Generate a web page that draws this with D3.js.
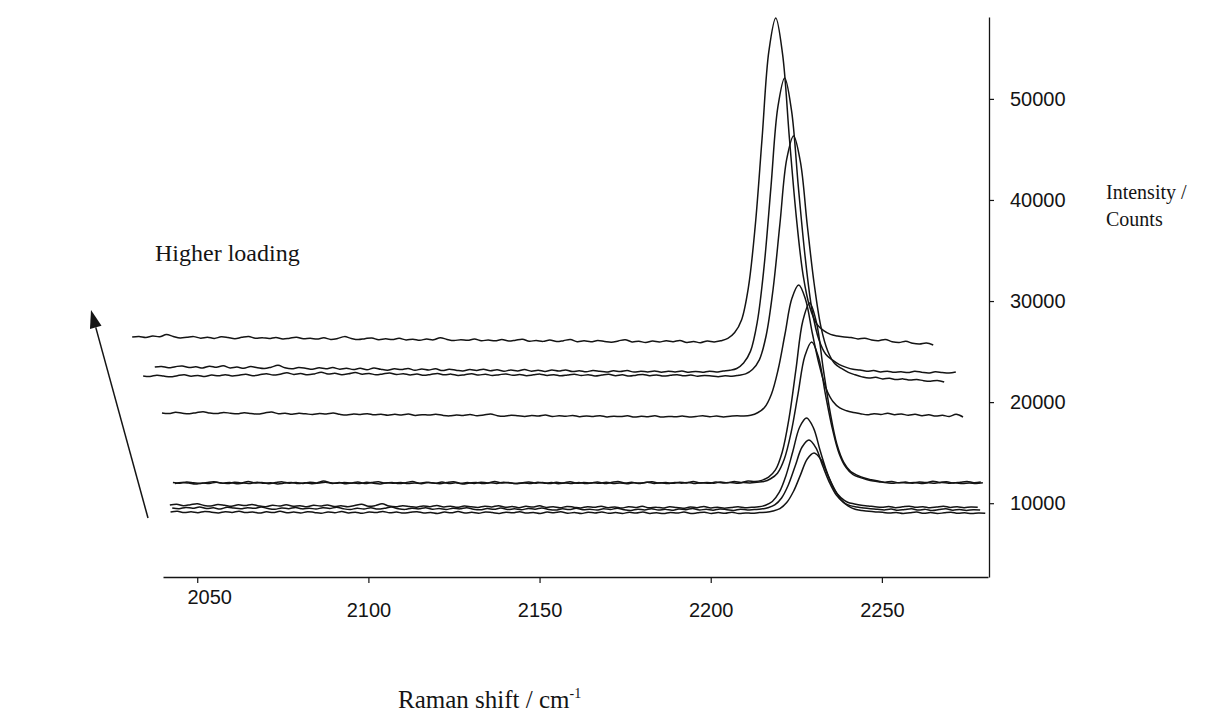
<!DOCTYPE html>
<html><head><meta charset="utf-8">
<script src="https://cdn.jsdelivr.net/npm/d3@7"></script>
<style>
html,body{margin:0;padding:0;background:#fff;}
svg{display:block;}
</style></head><body>
<svg id="chart" width="1219" height="722"></svg>
<script>
// Stacked Raman spectra of the C≡N stretching band at increasing loading.
const shiftTicks = [2050, 2100, 2150, 2200, 2250];
const countTicks = [10000, 20000, 30000, 40000, 50000];
const shiftStep = 2; // cm-1 between successive readings
const spectrumStarts = [2031, 2037.6, 2034.2, 2039.7, 2042.9, 2043.5, 2042, 2042.7, 2042.2];

const spectrum1 = [26450,26500,26400,26550,26460,26680,26500,26350,26420,26480,
26330,26420,26300,26460,26390,26280,26410,26500,26320,26380,
26290,26400,26250,26330,26410,26260,26320,26240,26360,26200,
26290,26480,26300,26190,26280,26350,26170,26260,26200,26310,
26150,26230,26120,26250,26160,26380,26200,26090,26180,26110,
26240,26070,26150,26060,26190,26040,26130,26230,26020,26100,
26010,26140,25990,26080,26200,25980,26060,25970,26090,26000,
25930,26050,26180,25960,26020,25900,26040,25950,26070,25980,
26100,25900,25990,25880,26050,25960,26080,26300,26880,28130,
31330,37420,46080,54740,58000,54400,46050,38330,32550,29330,
27720,27070,26700,26550,26450,26400,26250,26330,26150,26080,
26200,25980,25900,26020,25820,25750,25850,25650];

const spectrum2 = [23480,23530,23400,23510,23580,23420,23490,23380,23560,23450,
23600,23380,23470,23350,23520,23410,23330,23460,23640,23400,
23300,23420,23360,23250,23390,23300,23420,23260,23350,23230,
23340,23200,23380,23250,23160,23300,23220,23330,23150,23280,
23180,23300,23120,23250,23160,23080,23230,23140,23260,23100,
23200,23050,23180,23090,23220,23060,23150,23040,23170,23070,
23190,23020,23110,23000,23130,23050,22980,23100,23020,23120,
22970,23060,22990,23080,22960,23050,22990,23070,22960,23040,
22950,23060,22980,23080,23150,23330,23870,25020,27930,33450,
41300,49150,52070,48860,41300,34320,29090,26190,24730,24150,
23710,23440,23250,23180,23050,23120,22990,23060,22950,23010,
22920,23050,22960,22880,23000,22930,22870,22980];

const spectrum3 = [22590,22540,22660,22580,22500,22620,22700,22560,22640,22530,
22680,22600,22720,22590,22660,22750,22620,22700,22810,22680,
22760,22900,22740,22820,22700,22790,22960,22780,22850,22720,
22800,22930,22760,22840,22700,22790,22880,22730,22810,22690,
22780,22650,22740,22830,22700,22770,22640,22720,22800,22680,
22760,22630,22710,22790,22650,22730,22620,22700,22770,22640,
22720,22600,22690,22760,22630,22710,22590,22680,22750,22620,
22700,22580,22670,22740,22610,22690,22580,22650,22720,22600,
22680,22560,22640,22590,22520,22600,22550,22660,22800,23230,
24180,26590,31120,37580,44030,46330,43760,37520,31760,27440,
25040,23830,23330,22950,22700,22500,22380,22450,22300,22360,
22230,22300,22180,22240,22120,22070,22150,21990];

const spectrum4 = [18930,18880,18990,18900,18850,18960,19050,18920,18870,18980,
18900,18840,18950,18880,18820,18930,19020,18860,18910,18800,
18890,18840,18780,18870,18820,18920,18790,18730,18820,18770,
18860,18740,18800,18700,18790,18730,18820,18680,18760,18720,
18800,18690,18640,18730,18680,18780,18650,18720,18830,18660,
18610,18700,18650,18590,18680,18620,18720,18580,18650,18600,
18680,18560,18630,18580,18660,18540,18610,18570,18650,18520,
18600,18560,18640,18530,18590,18550,18620,18520,18580,18660,
18560,18620,18540,18600,18650,18620,18700,18950,19460,20760,
23230,26740,30250,31590,30160,26790,23680,21350,20060,19420,
19140,18980,18860,18740,18850,18780,18900,18760,18830,18700,
18790,18660,18740,18620,18700,18580,18800,18530];

const spectrum5 = [12050,11980,12100,12020,11950,12060,12130,12000,11940,12070,
12010,12150,11990,12060,11920,12040,12110,11980,12050,11960,
12080,12010,12190,12030,11970,12060,11990,12100,11950,12040,
12120,11990,12060,11940,12030,12150,11980,12070,12000,11930,
12050,12120,11970,12040,11960,12080,12010,12140,11990,12060,
11950,12030,12100,11980,12050,11940,12070,12000,12130,11970,
12050,11990,12110,11960,12040,12150,12000,12070,11950,12060,
12120,11990,12050,11970,12080,12010,12140,12000,12060,11980,
12090,12020,12150,12050,12200,12140,12260,12580,13290,15070,
18440,23240,28030,29810,27860,23240,18980,15780,14010,13120,
12760,12490,12320,12190,12080,12150,12020,12090,11980,12110,
12040,12170,12060,12120,12000,12080,12150,12030,12100];

const spectrum6 = [11960,12040,11990,11900,12010,11950,12070,11980,12050,11920,
12000,11940,12080,11970,12030,11910,11990,12060,11950,12020,
11930,12000,12080,11960,12040,11920,12010,11950,12070,11980,
11910,12030,11970,12060,11940,12010,11930,12050,11980,12090,
11950,12020,11900,11990,12060,11940,12030,11960,12080,11990,
11920,12010,11950,12070,11980,12040,11930,12000,11960,12060,
11940,12020,11970,12080,11950,12010,11920,12030,11990,12070,
11960,12020,11940,12050,11980,12060,11950,12030,11970,12090,
12000,12060,11980,12040,12010,12080,12140,12420,12970,14370,
17020,20790,24560,25950,24420,20790,17440,14930,13540,12840,
12560,12350,12190,12100,12020,11970,12060,11990,12040,11950,
12020,11980,12060,11970,12030,11940,12010,11960,12030];

const spectrum7 = [9820,9900,9760,9850,9950,9780,9720,9880,9800,9700,
9840,9770,9880,9730,9660,9800,9720,9840,9690,9760,
9650,9800,9720,9830,9680,9740,9640,9770,9900,9700,
9760,9940,9720,9640,9750,9680,9600,9730,9660,9780,
9630,9700,9590,9720,9650,9580,9700,9630,9760,9600,
9670,9560,9690,9620,9740,9580,9650,9550,9680,9610,
9530,9660,9590,9700,9560,9630,9520,9650,9580,9690,
9540,9610,9520,9640,9570,9500,9620,9560,9670,9530,
9600,9510,9580,9640,9550,9600,9640,9800,10170,11060,
12750,15140,17540,18430,17460,15160,13030,11430,10550,10100,
9930,9800,9730,9650,9590,9680,9560,9640,9710,9590,
9660,9550,9620,9700,9580,9650,9560,9630,9600];

const spectrum8 = [9530,9460,9580,9500,9620,9470,9540,9430,9600,9520,
9450,9560,9490,9620,9470,9400,9530,9460,9580,9440,
9510,9420,9560,9480,9600,9450,9380,9500,9430,9550,
9420,9490,9620,9460,9390,9500,9440,9560,9410,9470,
9380,9500,9440,9560,9410,9350,9470,9400,9520,9380,
9440,9350,9480,9410,9530,9380,9320,9440,9370,9490,
9350,9410,9320,9450,9380,9500,9350,9290,9410,9340,
9460,9320,9390,9300,9420,9360,9480,9330,9400,9310,
9430,9360,9290,9400,9340,9380,9420,9560,9830,10520,
11830,13700,15560,16250,15490,13700,12040,10800,10110,9760,
9620,9520,9450,9400,9330,9420,9300,9380,9450,9320,
9390,9280,9370,9440,9310,9380,9290,9360,9330];

const spectrum9 = [9130,9200,9080,9150,9060,9190,9110,9040,9160,9090,
9210,9070,9130,9020,9150,9080,9200,9050,9120,9030,
9160,9090,9010,9130,9060,9180,9040,9110,9000,9140,
9070,9190,9050,9120,9020,9100,9160,9040,9090,8990,
9120,9060,9170,9030,9100,9010,9130,9070,8990,9110,
9050,9160,9020,9090,8990,9120,9060,9150,9010,9080,
8980,9110,9040,9140,9000,9070,8990,9100,9030,9130,
8990,9060,8970,9090,9020,9120,8980,9050,9100,8990,
9070,9010,9110,8980,9040,9000,9080,9110,9230,9460,
10060,11180,12780,14380,14970,14320,12780,11360,10290,9700,
9400,9290,9200,9140,9100,9020,9090,8990,9060,9120,
9000,9070,8980,9050,9110,9000,9060,8970,9040,9010];

const spectra = [spectrum1, spectrum2, spectrum3, spectrum4, spectrum5,
                 spectrum6, spectrum7, spectrum8, spectrum9];

const svg = d3.select("#chart");
const ink = "#141414";
const sans = "'Liberation Sans', Arial, Helvetica, sans-serif";
const serif = "'Liberation Serif', 'Times New Roman', Times, serif";

const x = d3.scaleLinear().domain([2040, 2281]).range([163, 988]);
const y = d3.scaleLinear().domain([2700, 58100]).range([577, 17]);

// spectra
const line = d3.line()
  .x(d => x(d[0]))
  .y(d => y(d[1]))
  .curve(d3.curveCatmullRom.alpha(0.5));

spectra.forEach((counts, k) => {
  const pts = counts.map((c, i) => [spectrumStarts[k] + i * shiftStep, c]);
  svg.append("path")
    .datum(pts)
    .attr("fill", "none")
    .attr("stroke", ink)
    .attr("stroke-width", 1.5)
    .attr("stroke-linejoin", "round")
    .attr("d", line);
});

// x axis
const gx = svg.append("g")
  .attr("transform", "translate(0,577)")
  .call(d3.axisBottom(x).tickValues(shiftTicks).tickSize(6).tickSizeOuter(0)
        .tickPadding(20).tickFormat(d3.format("d")));
gx.select(".domain").attr("stroke", ink).attr("stroke-width", 1.3);
gx.selectAll(".tick line").attr("stroke", ink).attr("stroke-width", 1.2);
gx.selectAll(".tick text").attr("fill", ink).style("font-family", sans).style("font-size", "20px");
gx.selectAll(".tick").filter(d => d === 2050).select("text")
  .attr("transform", "translate(12,-13)");

// y axis
const gy = svg.append("g")
  .attr("transform", "translate(989,0)")
  .call(d3.axisRight(y).tickValues(countTicks).tickSize(5).tickSizeOuter(0)
        .tickPadding(16).tickFormat(d3.format("d")));
gy.select(".domain").attr("stroke", ink).attr("stroke-width", 1.3);
gy.selectAll(".tick line").attr("stroke", ink).attr("stroke-width", 1.2);
gy.selectAll(".tick text").attr("fill", ink).style("font-family", sans).style("font-size", "20px");

// axis titles
svg.append("text").attr("x", 1106).attr("y", 199)
  .style("font-family", serif).style("font-size", "20px").attr("fill", ink)
  .text("Intensity /");
svg.append("text").attr("x", 1106).attr("y", 226)
  .style("font-family", serif).style("font-size", "20px").attr("fill", ink)
  .text("Counts");

const xt = svg.append("text").attr("x", 398).attr("y", 708)
  .style("font-family", serif).style("font-size", "25px").attr("fill", ink);
xt.append("tspan").text("Raman shift / cm");
xt.append("tspan").attr("dy", -10).style("font-size", "14px").text("-1");

// loading annotation
svg.append("text").attr("x", 155).attr("y", 261)
  .style("font-family", serif).style("font-size", "24px").attr("fill", ink)
  .text("Higher loading");

const tail = [148, 518], tip = [91, 310];
const dx = tip[0] - tail[0], dy = tip[1] - tail[1];
const len = Math.hypot(dx, dy), ux = dx / len, uy = dy / len;
const headLen = 18, headHalf = 6;
const bx = tip[0] - ux * headLen, by = tip[1] - uy * headLen;
svg.append("line")
  .attr("x1", tail[0]).attr("y1", tail[1]).attr("x2", bx).attr("y2", by)
  .attr("stroke", ink).attr("stroke-width", 1.5);
svg.append("path")
  .attr("d", `M${tip[0]},${tip[1]}L${bx - uy * headHalf},${by + ux * headHalf}L${bx + uy * headHalf},${by - ux * headHalf}Z`)
  .attr("fill", ink);
</script>
</body></html>
